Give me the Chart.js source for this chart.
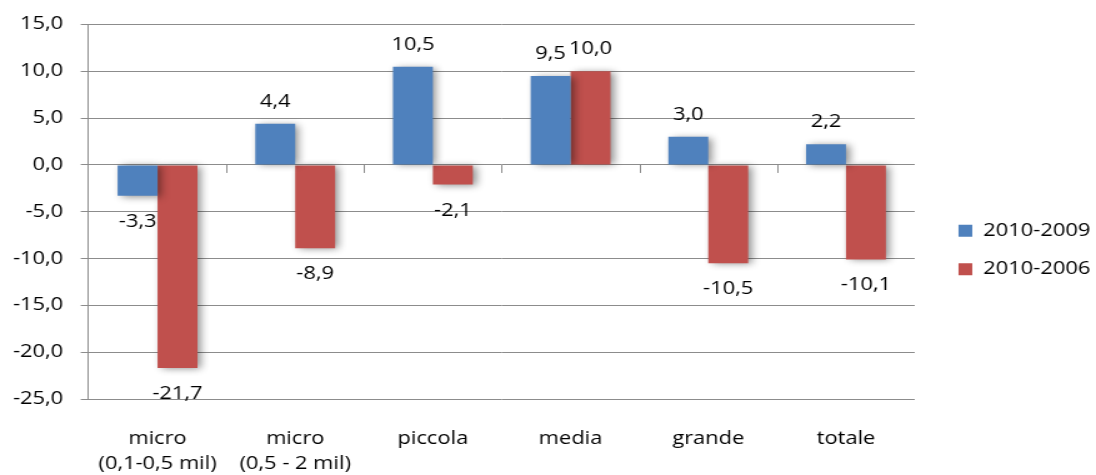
<!DOCTYPE html>
<html>
<head>
<meta charset="utf-8">
<script src="https://cdn.jsdelivr.net/npm/chart.js@4/dist/chart.umd.min.js"></script>
<style>
  html, body { margin: 0; padding: 0; background: #fff; }
  #wrap { width: 1096px; height: 475px; position: relative; overflow: hidden; }
  /* the drawing surface is rendered narrower and widened on display */
  #c { display: block; width: 1096px; height: 475px; }
</style>
</head>
<body>
<div id="wrap"><canvas id="c" width="877" height="475" style="width:1096px;height:475px"></canvas></div>
<script>
// Categories (dimension classes) and the two variation series
const categories = [
  ['micro', '(0,1-0,5 mil)'],
  ['micro', '(0,5 - 2 mil)'],
  'piccola',
  'media',
  'grande',
  'totale'
];
const seriesNames = ['2010-2009', '2010-2006'];
const values2010_2009 = [-3.3, 4.4, 10.5, 9.5, 3.0, 2.2];
const values2010_2006 = [-21.7, -8.9, -2.1, 10.0, -10.5, -10.1];
const yMin = -25;
const yMax = 15;
const yStep = 5;

const FONT = '"Open Sans", "DejaVu Sans", sans-serif';
const FONT_SIZE = 17.5;
const fmt = v => v.toFixed(1).replace('.', ',');

// Soft drop shadow behind the bars
const barShadow = {
  id: 'barShadow',
  beforeDatasetsDraw(chart) {
    const ctx = chart.ctx;
    ctx.save();
    ctx.shadowColor = 'rgba(0,0,0,0.45)';
    ctx.shadowBlur = 7;
    ctx.shadowOffsetX = 3;
    ctx.shadowOffsetY = 1;
  },
  afterDatasetsDraw(chart) {
    chart.ctx.restore();
  }
};

// Value labels outside the end of each bar
const valueLabels = {
  id: 'valueLabels',
  afterDraw(chart) {
    const ctx = chart.ctx;
    ctx.save();
    ctx.font = FONT_SIZE + 'px ' + FONT;
    ctx.fillStyle = '#000';
    ctx.textAlign = 'center';
    ctx.textBaseline = 'middle';
    chart.data.datasets.forEach((ds, di) => {
      const meta = chart.getDatasetMeta(di);
      meta.data.forEach((bar, i) => {
        const v = ds.data[i];
        const y = v >= 0 ? bar.y - 22 : bar.y + 26;
        ctx.fillText(fmt(v), bar.x, y);
      });
    });
    ctx.restore();
  }
};

// Small tick marks on the zero line between categories
const zeroTicks = {
  id: 'zeroTicks',
  afterDatasetsDraw(chart) {
    const ctx = chart.ctx;
    const xs = chart.scales.x;
    const y0 = chart.scales.y.getPixelForValue(0);
    ctx.save();
    ctx.strokeStyle = '#8c8c8c';
    ctx.lineWidth = 1;
    for (let i = 1; i < categories.length; i++) {
      const x = Math.round((xs.getPixelForValue(i - 1) + xs.getPixelForValue(i)) / 2) + 0.5;
      ctx.beginPath();
      ctx.moveTo(x, y0);
      ctx.lineTo(x, y0 + 8);
      ctx.stroke();
    }
    ctx.restore();
  }
};

// Place the legend a fixed gap to the right of the plot, raised slightly
const legendGap = {
  id: 'legendGap',
  afterLayout(chart) {
    const lg = chart.legend;
    if (!lg) return;
    const w = lg.right - lg.left;
    lg.left = chart.chartArea.right + 14;
    lg.right = lg.left + w;
    lg.top -= 12;
    lg.bottom -= 12;
  }
};

new Chart(document.getElementById('c'), {
  type: 'bar',
  data: {
    labels: categories,
    datasets: [
      { label: seriesNames[0], data: values2010_2009, backgroundColor: '#4f81bd' },
      { label: seriesNames[1], data: values2010_2006, backgroundColor: '#c0504d' }
    ]
  },
  options: {
    responsive: false,
    animation: false,
    devicePixelRatio: 1,
    layout: { padding: { top: 19, right: 8.6, left: -3.6, bottom: -30 } },
    datasets: { bar: { categoryPercentage: 0.58, barPercentage: 1.0 } },
    plugins: {
      legend: {
        position: 'right',
        align: 'center',
        labels: {
          font: { family: FONT, size: FONT_SIZE },
          color: '#000',
          boxWidth: 11,
          boxHeight: 12,
          padding: 21
        }
      },
      tooltip: { enabled: false }
    },
    scales: {
      x: {
        grid: { display: false, drawTicks: false },
        border: { display: false },
        ticks: {
          font: { family: FONT, size: FONT_SIZE, lineHeight: 25 / FONT_SIZE },
          color: '#000',
          padding: 28,
          maxRotation: 0
        }
      },
      y: {
        min: yMin,
        max: yMax,
        grid: { color: '#8c8c8c', tickLength: 6.4, drawTicks: true },
        border: { color: '#8c8c8c' },
        ticks: {
          stepSize: yStep,
          font: { family: FONT, size: FONT_SIZE },
          color: '#000',
          padding: 14,
          callback: v => fmt(v)
        }
      }
    }
  },
  plugins: [barShadow, zeroTicks, valueLabels, legendGap]
});
</script>
</body>
</html>
